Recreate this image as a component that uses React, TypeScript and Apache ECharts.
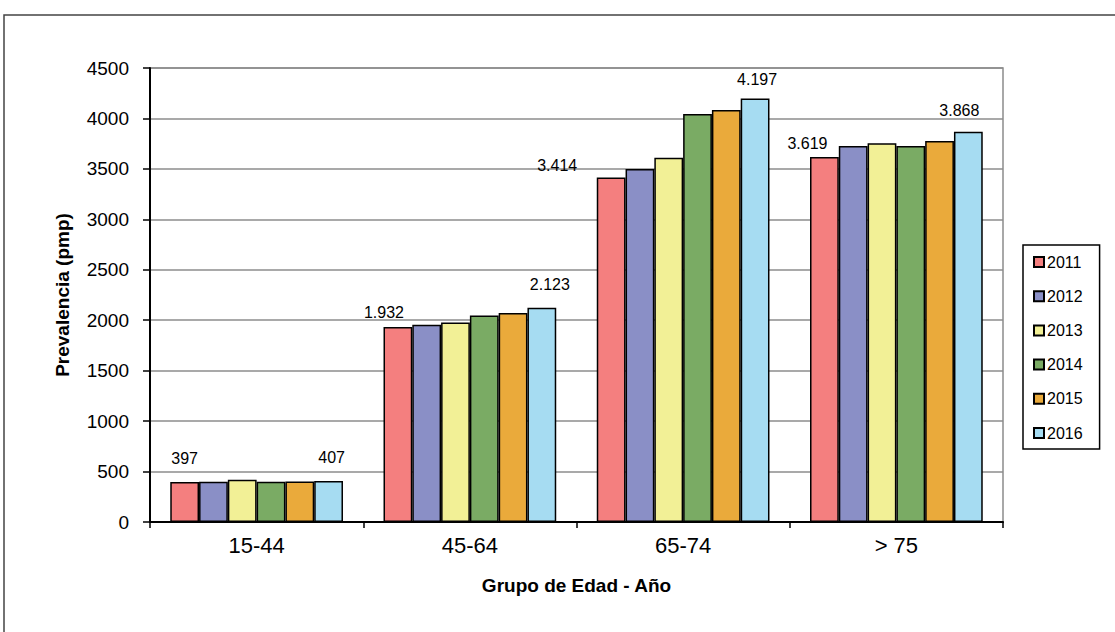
import React, { useEffect, useRef } from "react";
import * as echarts from "echarts";

const categories = ["15-44", "45-64", "65-74", "> 75"];
const years = ["2011", "2012", "2013", "2014", "2015", "2016"];
const v2011 = [397, 1932, 3414, 3619];
const v2012 = [400, 1955, 3500, 3727];
const v2013 = [420, 1978, 3611, 3754];
const v2014 = [400, 2047, 4045, 3727];
const v2015 = [402, 2071, 4084, 3776];
const v2016 = [407, 2123, 4197, 3868];
const yTicks = { min: 0, max: 4500, interval: 500 };

const colors = ["#F47F7F", "#8A8FC6", "#F2F096", "#7AAB64", "#EAAA3B", "#A6DCF2"];

const fmt = (v: number) => {
  const s = Math.round(v).toString();
  return s.replace(/\B(?=(\d{3})+(?!\d))/g, ".");
};

export default function App() {
  const ref = useRef<HTMLDivElement>(null);
  useEffect(() => {
    if (!ref.current) return;
    const chart = echarts.init(ref.current, null, { renderer: "svg" });
    const all = [v2011, v2012, v2013, v2014, v2015, v2016];
    const firstOffsets = [[0, -10], [-14, -2], [-54, 1], [-17, 0]];
    const lastOffsets = [[3, -10], [8, -10], [2, -6], [-9, -8]];
    const font = "'Liberation Sans', Arial, sans-serif";
    const series = all.map((vals, si) => ({
      name: years[si],
      type: "bar",
      barGap: "0%",
      barCategoryGap: "19%",
      itemStyle: { color: colors[si], borderColor: "#000", borderWidth: 1.5 },
      data: vals.map((v, ci) => {
        const showLabel = si === 0 || si === all.length - 1;
        const off = si === 0 ? firstOffsets[ci] : lastOffsets[ci];
        return {
          value: v,
          label: showLabel
            ? {
                show: true,
                position: "top",
                offset: off,
                formatter: (p: any) => fmt(p.value),
                fontSize: 16,
                color: "#000",
                fontFamily: font,
              }
            : { show: false },
        };
      }),
    }));
    chart.setOption({
      animation: false,
      textStyle: { fontFamily: font },
      grid: {
        left: 150,
        right: 112,
        top: 68,
        bottom: 110,
        show: true,
        borderColor: "#8c8c8c",
        borderWidth: 1.5,
        containLabel: false,
      },
      graphic: [
        {
          type: "rect",
          shape: { x: 4, y: 15, width: 1130, height: 640 },
          style: { fill: "none", stroke: "#444", lineWidth: 1.5 },
          z: 100,
          silent: true,
        },
      ],
      legend: {
        orient: "vertical",
        left: 1023,
        top: 245,
        padding: [9, 17, 8, 10],
        itemWidth: 10,
        itemHeight: 10,
        itemGap: 18.2,
        icon: "rect",
        borderColor: "#000",
        borderWidth: 1.5,
        textStyle: { fontSize: 16, color: "#000", fontFamily: font, padding: [0, 0, 0, -2] },
        data: years,
      },
      xAxis: {
        type: "category",
        data: categories,
        name: "Grupo de Edad - Año",
        nameLocation: "middle",
        nameGap: 54,
        nameTextStyle: { fontSize: 19, fontWeight: "bold", color: "#000", fontFamily: font },
        axisLine: { show: true, lineStyle: { color: "#000", width: 2 } },
        axisTick: { show: true, alignWithLabel: false, length: 6, lineStyle: { color: "#000", width: 1.5 } },
        axisLabel: { fontSize: 22, color: "#000", margin: 12, fontFamily: font },
        splitLine: { show: false },
      },
      yAxis: {
        type: "value",
        min: yTicks.min,
        max: yTicks.max,
        interval: yTicks.interval,
        name: "Prevalencia (pmp)",
        nameLocation: "middle",
        nameGap: 78,
        nameRotate: 90,
        nameTextStyle: { fontSize: 19, fontWeight: "bold", color: "#000", fontFamily: font },
        axisLine: { show: true, lineStyle: { color: "#000", width: 2 } },
        axisTick: { show: true, inside: false, length: 7, lineStyle: { color: "#000", width: 1.5 } },
        axisLabel: {
          fontSize: 19,
          color: "#000",
          margin: 21,
          fontFamily: font,
          formatter: (v: number) => String(v),
        },
        splitLine: { show: true, lineStyle: { color: "#8c8c8c", width: 1.5 } },
      },
      series,
    });
    return () => chart.dispose();
  }, []);
  return (
    <div
      ref={ref}
      style={{ position: "fixed", left: 0, top: 0, width: 1115, height: 632, background: "#fff" }}
    />
  );
}
